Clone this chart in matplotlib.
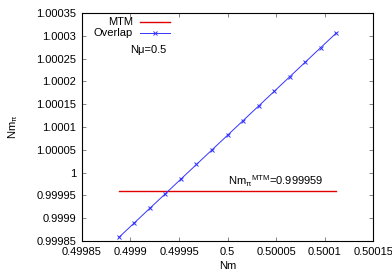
import matplotlib
matplotlib.use("Agg")
import matplotlib.pyplot as plt
from matplotlib.ticker import FixedLocator, FuncFormatter

plt.rcParams["font.family"] = ["Liberation Sans", "DejaVu Sans"]
plt.rcParams["mathtext.fontset"] = "custom"
plt.rcParams["mathtext.rm"] = "Liberation Sans"
plt.rcParams["mathtext.it"] = "Liberation Sans"

# data
nm = [0.499888, 0.499904, 0.499920, 0.499936, 0.499952, 0.499968, 0.499984,
      0.500000, 0.500016, 0.500032, 0.500048, 0.500064, 0.500080, 0.500096, 0.500112]
nm_pi = [0.999858, 0.999890, 0.999922, 0.999954, 0.999986, 1.000018, 1.000050,
         1.000082, 1.000114, 1.000146, 1.000178, 1.000210, 1.000242, 1.000274, 1.000306]
mtm_x = [0.499888, 0.500112]
mtm_value = 0.999959

xticks = [0.49985, 0.4999, 0.49995, 0.5, 0.50005, 0.5001, 0.50015]
yticks = [0.99985, 0.9999, 0.99995, 1.0, 1.00005, 1.0001, 1.00015,
          1.0002, 1.00025, 1.0003, 1.00035]

fs = 8
red = "#e00000"
blue = "#3333ff"
fig = plt.figure(figsize=(3.92, 2.74), dpi=100)
ax = fig.add_axes([0.209, 0.120, 0.743, 0.833])

ax.plot(mtm_x, [mtm_value, mtm_value], color=red, lw=1.0)
ax.plot(nm, nm_pi, color=blue, lw=0.7, marker="x", ms=3, mew=0.7)

ax.set_xlim(0.49985, 0.50015)
ax.set_ylim(0.99985, 1.00035)
ax.xaxis.set_major_locator(FixedLocator(xticks))
ax.yaxis.set_major_locator(FixedLocator(yticks))
ax.xaxis.set_major_formatter(FuncFormatter(lambda v, p: "%g" % round(v, 6)))
ax.yaxis.set_major_formatter(FuncFormatter(lambda v, p: "%g" % round(v, 6)))
ax.tick_params(direction="in", length=3, width=0.5, labelsize=fs, top=True, right=True,
               color="#555555", pad=4)
for s in ax.spines.values():
    s.set_linewidth(0.8)

ax.set_xlabel("Nm", fontsize=fs, labelpad=3)
ax.set_ylabel(r"Nm$_\pi$", fontsize=fs, labelpad=12)

# gnuplot style key: right aligned labels, sample after the text
tr = ax.transAxes
ax.text(0.175, 0.9605, "MTM", fontsize=fs, ha="right", va="center", transform=tr)
ax.plot([0.199, 0.302], [0.9605, 0.9605], color=red, lw=1.0, transform=tr)
ax.text(0.175, 0.912, "Overlap", fontsize=fs, ha="right", va="center", transform=tr)
ax.plot([0.199, 0.302], [0.912, 0.912], color=blue, lw=0.7, transform=tr)
ax.plot([0.2505], [0.912], color=blue, marker="x", ms=3, mew=0.7, transform=tr)

ax.text(0.4998995, 1.000269, "N\u03bc=0.5", fontsize=fs, ha="left", va="center")
ax.text(0.5000005, 0.999973, r"Nm$_\pi$$^{\mathrm{MTM}}$=0.999959",
        fontsize=fs, ha="left", va="baseline")

fig.savefig("out.png", dpi=100)
